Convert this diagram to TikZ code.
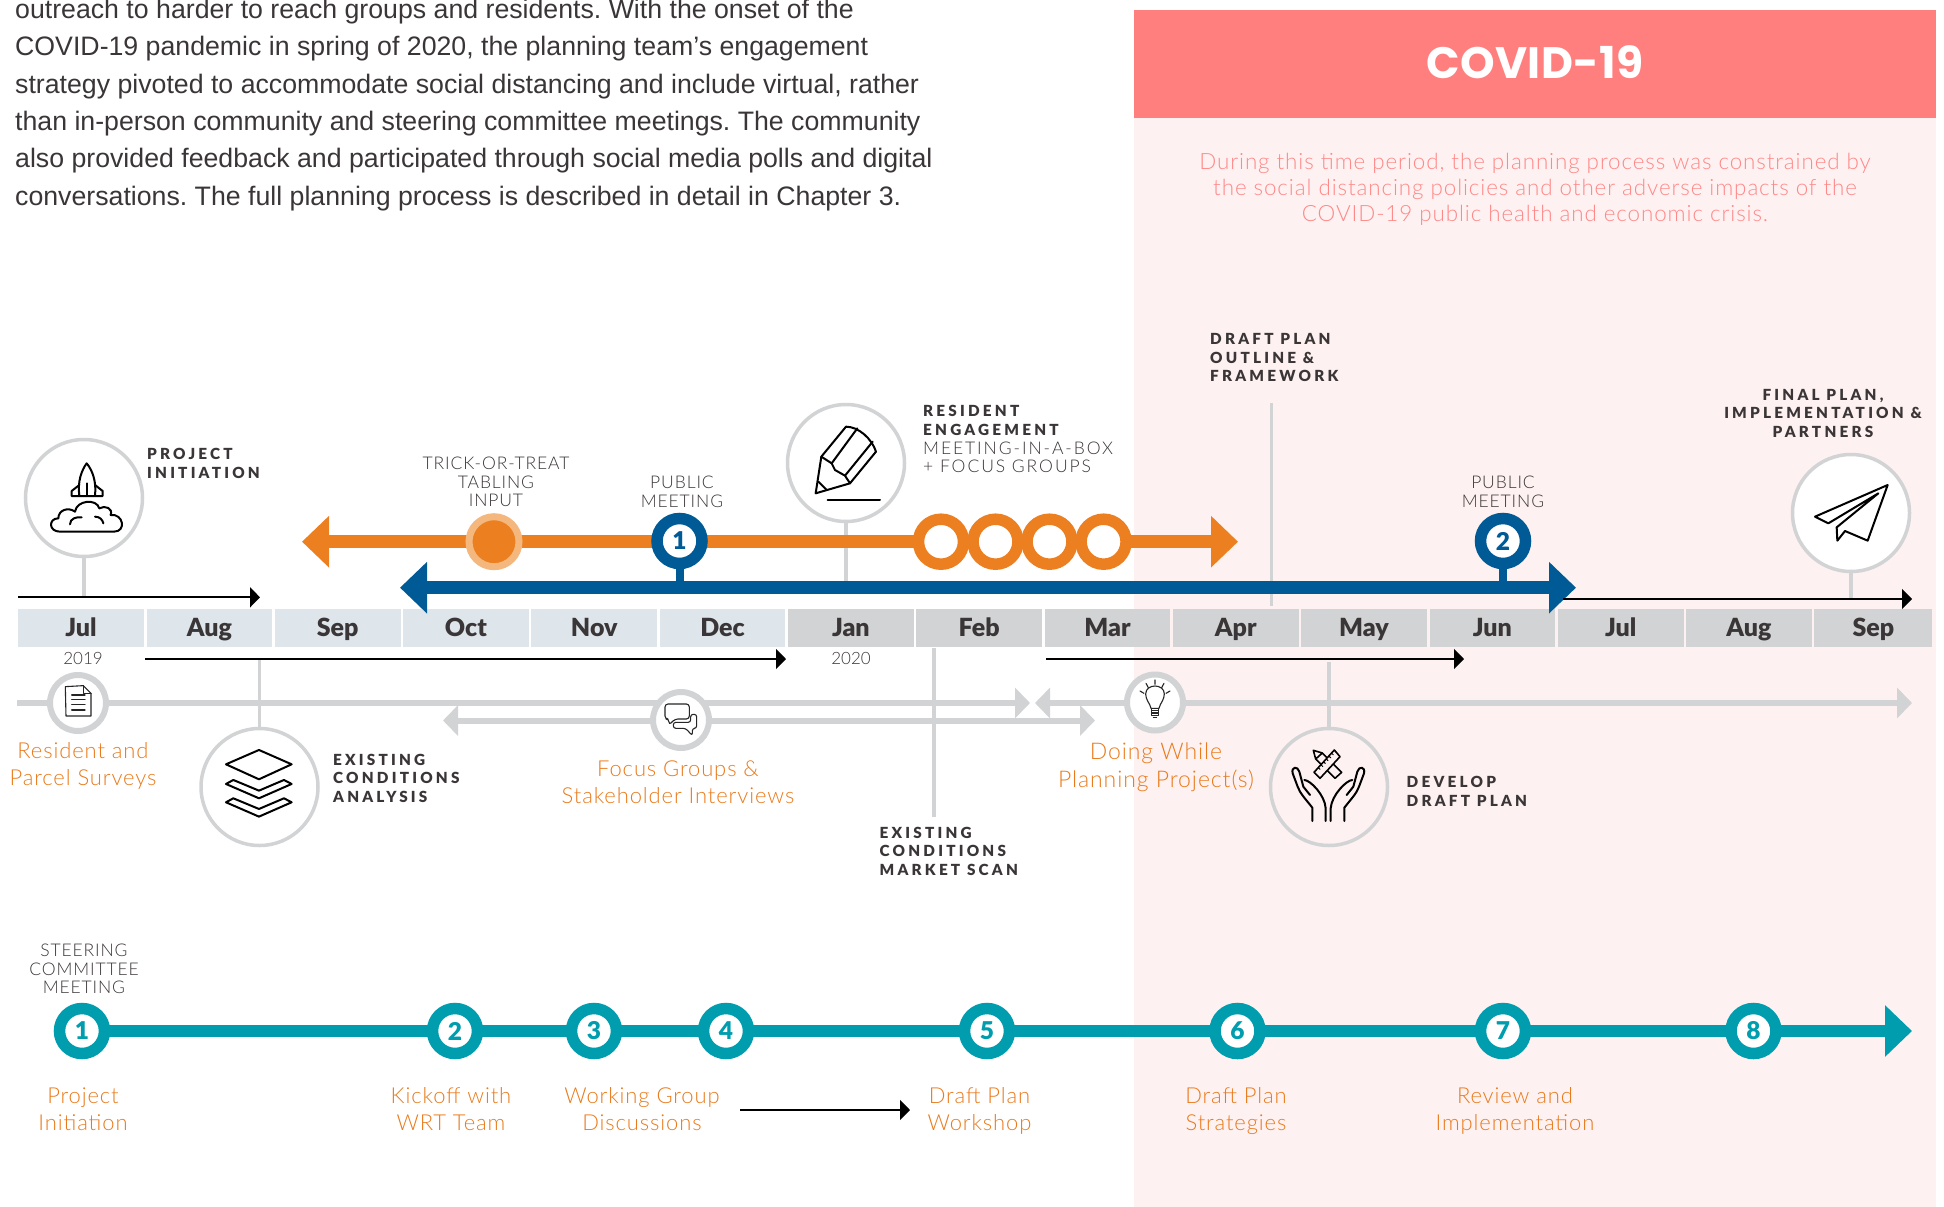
\documentclass[tikz,border=0pt]{standalone}
\usepackage{fontspec}
\usetikzlibrary{arrows.meta}
\setmainfont{Liberation Sans}
\newfontfamily\bodyf{Liberation Sans}
\newfontfamily\lightf{Lato Light}
\newfontfamily\lightsp[LetterSpace=4]{Lato Light}
\newfontfamily\boldsp[LetterSpace=21]{Lato Black}
\newfontfamily\capsl[LetterSpace=5]{Lato Light}
\newfontfamily\capsw[LetterSpace=11]{Lato Light}
\newfontfamily\monthf{Lato Black}
\newfontfamily\numf{Lato Black}
\newfontfamily\titlef[LetterSpace=1]{Poppins Bold}
\definecolor{dark}{HTML}{3A3536}
\definecolor{ltgrey}{HTML}{D1D3D4}
\definecolor{cool}{HTML}{DEE6EB}
\definecolor{orng}{HTML}{E97A1B}
\definecolor{orngl}{HTML}{F4B87F}
\definecolor{orngbar}{HTML}{EC7F1F}
\definecolor{bluu}{HTML}{005A96}
\definecolor{teal2}{HTML}{009DAE}
\definecolor{coral}{HTML}{FF7F7F}
\definecolor{coraltxt}{HTML}{FF8888}
\definecolor{pinkbg}{HTML}{FEF1F1}
\pgfdeclarelayer{panel}
\pgfdeclarelayer{stems}
\pgfsetlayers{panel,stems,main}
\tikzset{
  bigring/.style={circle,draw=ltgrey,line width=3.5pt,minimum size=117pt,inner sep=0pt,fill=white},
  smallring/.style={circle,draw=ltgrey,line width=6pt,minimum size=56pt,inner sep=0pt,fill=white},
  numring/.style={circle,draw=#1,text=#1,line width=11.5pt,minimum size=45pt,inner sep=0pt,fill=white,font=\numf\fontsize{24.5}{24.5}\selectfont},
  monthcell/.style={minimum height=38pt,inner sep=0pt,text height=21pt,text depth=4pt,text=dark,font=\monthf\fontsize{25}{25}\selectfont},
  stem/.style={draw=ltgrey,line width=3.5pt},
  bluestem/.style={draw=bluu,line width=8pt},
  blackarrow/.style={draw=black,line width=2pt,-{Triangle[length=10pt,width=20pt]}},
  greyline/.style={draw=ltgrey,line width=6pt},
  greyarrow/.style={greyline,-{Triangle[length=15pt,width=30pt]}},
  greyboth/.style={greyline,{Triangle[length=15pt,width=30pt]}-{Triangle[length=15pt,width=30pt]}},
  bigbar/.style={line width=12.5pt},
  barboth/.style={bigbar,{Triangle[length=27pt,width=50pt]}-{Triangle[length=27pt,width=50pt]}},
  struts/.style={execute at begin node=\strut,execute at end node=\strut},
  orangelab/.style={struts,text=orng,align=center,inner sep=0pt,font=\lightsp\fontsize{22}{26.5}\selectfont},
  capslab/.style={struts,text=dark,align=center,inner sep=0pt,font=\capsl\fontsize{17.5}{18.7}\selectfont},
  boldlab/.style={struts,text=dark,align=left,anchor=west,inner sep=0pt,font=\boldsp\fontsize{15.3}{18.7}\selectfont},
  icon/.style={draw=black,line width=2pt,line join=round,line cap=round},
  thinicon/.style={draw=black!85,line width=1.1pt,line join=round,line cap=round},
}
\begin{document}
\begin{tikzpicture}[x=1pt,y=-1pt]
\useasboundingbox (0,0) rectangle (1944,1207);
% COVID panel
\begin{pgfonlayer}{panel}
\fill[pinkbg] (1134,118) rectangle (1936,1207);
\fill[coral] (1134,10) rectangle (1936,118);
\end{pgfonlayer}
\node[inner sep=0pt,text=white,font=\titlef\fontsize{44}{44}\selectfont] (covidtitle) at (1535,62) {COVID-19};
\node[align=center,inner sep=0pt,text=coraltxt,font=\lightsp\fontsize{22.4}{26}\selectfont] (covidtext) at (1535,189.7)
  {During this time period, the planning process was constrained by\\the social distancing policies and other adverse impacts of the\\COVID-19 public health and economic crisis.};
% intro
\node[anchor=north west,inner sep=0pt,align=left,text=dark,font=\bodyf\frenchspacing\fontsize{26.7}{37.35}\selectfont] (intro) at (15,-1)
  {outreach to harder to reach groups and residents. With the onset of the\\
   COVID-19 pandemic in spring of 2020, the planning team’s engagement\\
   strategy pivoted to accommodate social distancing and include virtual, rather\\
   than in-person community and steering committee meetings. The community\\
   also provided feedback and participated through social media polls and digital\\
   conversations. The full planning process is described in detail in Chapter 3.};
% months
\foreach \i/\m/\c/\w in {0/Jul/cool/125.7,1/Aug/cool/125.7,2/Sep/cool/125.7,3/Oct/cool/125.7,4/Nov/cool/125.7,5/Dec/cool/125.7,6/Jan/ltgrey/125.7,7/Feb/ltgrey/125.7,8/Mar/ltgrey/125.7,9/Apr/ltgrey/125.7,10/May/ltgrey/125.7,11/Jun/ltgrey/125.7,12/Jul/ltgrey/125.7,13/Aug/ltgrey/125.7,14/Sep/ltgrey/118}{
  \node[monthcell,fill=\c,minimum width=\w pt,anchor=west] (m\i) at ({18+128.3*\i},627.5) {\m};
}
\node[inner sep=0pt,text=dark,font=\lightf\fontsize{17}{17}\selectfont] (y2019) at (83,658) {2019};
\node[inner sep=0pt,text=dark,font=\lightf\fontsize{17}{17}\selectfont] (y2020) at (851,658) {2020};
% coordinates for free ends
\coordinate (ba1s) at (18,597.3);   \coordinate (ba1e) at (260,597.3);
\coordinate (ba2s) at (145,659);    \coordinate (ba2e) at (786,659);
\coordinate (ba3s) at (1046,659);   \coordinate (ba3e) at (1464,659);
\coordinate (ba4s) at (1563,599);   \coordinate (ba4e) at (1912,599);
\coordinate (ba5s) at (740,1110);   \coordinate (ba5e) at (910,1110);
\coordinate (ol) at (302,541.7);    \coordinate (or) at (1238,541.7);
\coordinate (bl) at (400,587.7);    \coordinate (br) at (1576,587.7);
\coordinate (gl1s) at (17,703);     \coordinate (gl1e) at (1030,703);
\coordinate (gl2s) at (443,720.5);  \coordinate (gl2e) at (1095,720.5);
\coordinate (gl3s) at (1035,703);   \coordinate (gl3e) at (1912,703);
\coordinate (mk1) at (934,648);     \coordinate (mk2) at (934,817);
\coordinate (dp1) at (1271.7,403);  \coordinate (dp2) at (1271.7,606);
\coordinate (dv1) at (1329,662);
\coordinate (tl) at (82,1031);      \coordinate (tr) at (1912,1031);
% grey lines
\draw[greyarrow] (gl1s) -- (gl1e);
\draw[greyboth] (gl2s) -- (gl2e);
\draw[greyboth] (gl3s) -- (gl3e);
% big bars
\draw[orngbar,barboth] (ol) -- (or);
\draw[bluu,barboth] (bl) -- (br);
% black arrows
\draw[blackarrow] (ba1s) -- (ba1e);
\draw[blackarrow] (ba2s) -- (ba2e);
\draw[blackarrow] (ba3s) -- (ba3e);
\draw[blackarrow] (ba4s) -- (ba4e);
\draw[blackarrow] (ba5s) -- (ba5e);
% big rings
\node[bigring] (cproj) at (84,498) {};
\node[bigring] (cres) at (846,463) {};
\node[bigring] (cplane) at (1851,513) {};
\node[bigring] (clay) at (259.5,787) {};
\node[bigring,fill=pinkbg] (chand) at (1329,787) {};
% small rings
\node[smallring] (cdoc) at (78,703) {};
\node[smallring] (cchat) at (681,720) {};
\node[smallring] (cbulb) at (1155,702.5) {};
% orange markers
\node[circle,fill=orngbar,draw=orngl,line width=7pt,minimum size=50pt,inner sep=0pt] (trick) at (494,541.7) {};
\foreach \n/\xx in {a/941,b/995.5,c/1049.5,d/1103.6}{
  \node[circle,draw=orngbar,fill=white,line width=11.5pt,minimum size=45pt,inner sep=0pt] (oring\n) at (\xx,541.7) {};
}
% blue numbered
\node[numring=bluu] (pub1) at (679.5,541) {1};
\node[numring=bluu] (pub2) at (1503,541) {2};
% stems, on the layer under the bars
\begin{pgfonlayer}{stems}
\draw[stem] (cproj) -- (cproj |- ba1s);
\draw[stem] (cres) -- (cres |- bl);
\draw[stem] (dp1) -- (dp2);
\draw[stem] (cplane) -- (cplane |- ba4s);
\draw[stem] (clay) -- (clay |- ba2s);
\draw[stem] (chand) -- (chand |- dv1);
\draw[stem] (mk1) -- (mk2);
\draw[bluestem] (pub1) -- (pub1 |- bl);
\draw[bluestem] (pub2) -- (pub2 |- bl);
\end{pgfonlayer}
% teal line
\draw[teal2,bigbar,-{Triangle[length=27pt,width=50pt]}] (tl) -- (tr);
\foreach \n/\xx in {1/82,2/455,3/594,4/726,5/987,6/1237.5,7/1503,8/1753.5}{
  \node[numring=teal2] (st\n) at (\xx,1031) {\n};
}
% labels
\node[boldlab] (lproj) at (147,466.5) {PROJECT\\INITIATION};
\node[capslab] (ltrick) at (496,484.7) {TRICK-OR-TREAT\\TABLING\\INPUT};
\node[capslab] (lpub1) at (682,494.2) {PUBLIC\\MEETING};
\node[capslab] (lpub2) at (1503,494.2) {PUBLIC\\MEETING};
\node[boldlab] (lres) at (923,423.5) {RESIDENT\\ENGAGEMENT};
\node[capslab,align=left,anchor=west,font=\capsw\fontsize{17.5}{18.7}\selectfont] (lres2) at (923,460) {MEETING-IN-A-BOX\\+ FOCUS GROUPS};
\node[boldlab] (ldraft) at (1210,360.5) {DRAFT PLAN\\OUTLINE \&\\FRAMEWORK};
\node[boldlab,align=center,anchor=center] (lfinal) at (1823,416) {FINAL PLAN,\\IMPLEMENTATION \&\\PARTNERS};
\node[boldlab] (lexa) at (333,781) {EXISTING\\CONDITIONS\\ANALYSIS};
\node[boldlab] (lexm) at (879.5,854) {EXISTING\\CONDITIONS\\MARKET SCAN};
\node[boldlab] (ldev) at (1406.5,794.5) {DEVELOP\\DRAFT PLAN};
\node[orangelab] (lsurv) at (83,768.2) {Resident and\\Parcel Surveys};
\node[orangelab] (lfocus) at (678,786.2) {Focus Groups \&\\Stakeholder Interviews};
\node[orangelab,font=\lightsp\fontsize{23}{27.5}\selectfont] (ldoing) at (1156,769.5) {Doing While\\Planning Project(s)};
\node[capslab] (lsteer) at (84,971.7) {STEERING\\COMMITTEE\\MEETING};
\node[orangelab] (ls1) at (83,1113.2) {Project\\Initiation};
\node[orangelab] (ls2) at (451,1113.2) {Kickoff with\\WRT Team};
\node[orangelab] (ls3) at (642,1113.2) {Working Group\\Discussions};
\node[orangelab] (ls5) at (979.5,1113.2) {Draft Plan\\Workshop};
\node[orangelab] (ls6) at (1236,1113.2) {Draft Plan\\Strategies};
\node[orangelab] (ls7) at (1515,1113.2) {Review and\\Implementation};
% rocket icon
\begin{scope}[shift={(40,455)},x=0.3333pt,y=-0.3333pt]
\draw[icon] (118,122) .. controls (112,80) and (125,45) .. (140,25) .. controls (157,45) and (170,80) .. (165,122);
\draw[icon] (118,90) -- (95,108) -- (95,123) -- (188,123) -- (188,108) -- (165,90);
\draw[icon] (141,85) -- (141,122);
\draw[icon] (60,230) .. controls (25,230) and (25,190) .. (55,190) .. controls (55,165) and (85,155) .. (105,170) .. controls (110,135) and (170,130) .. (178,160) .. controls (195,150) and (220,160) .. (212,180) .. controls (250,175) and (260,230) .. (222,230) -- cycle;
\draw[icon] (90,208) .. controls (90,190) and (110,185) .. (125,187);
\draw[icon] (165,185) .. controls (180,185) and (188,195) .. (190,205);
\end{scope}
% layers and document icons
\begin{scope}[shift={(0,420)},x=0.3333pt,y=-0.3333pt]
\draw[icon] (678,1033) -- (777,990) -- (875,1033) -- (777,1078) -- cycle;
\draw[icon] (700,1080) -- (678,1092) -- (777,1135) -- (875,1092) -- (852,1080) -- (777,1112) -- cycle;
\draw[icon] (700,1135) -- (678,1147) -- (777,1190) -- (875,1147) -- (852,1135) -- (777,1167) -- cycle;
\draw[thinicon] (196,800) -- (250,797) -- (273,820) -- (273,888) -- (198,888) -- cycle;
\draw[thinicon] (250,797) -- (250,820) -- (273,820);
\draw[thinicon] (215,825) -- (255,825) (215,838) -- (255,838) (215,853) -- (255,853) (215,870) -- (255,870);
\end{scope}
% pencil icon
\begin{scope}[shift={(780,410)},x=0.3333pt,y=-0.3333pt]
\draw[icon] (107,250) -- (124,140) -- (198,50) .. controls (235,50) and (275,85) .. (288,125) -- (210,220) -- cycle;
\draw[icon] (124,140) -- (155,160) -- (165,180) -- (195,197) -- (210,220);
\draw[icon] (155,160) -- (232,55);
\draw[icon] (195,197) -- (278,95);
\draw[icon] (115,215) -- (140,240);
\draw[icon] (143,271) -- (300,271);
\end{scope}
% plane icon
\begin{scope}[shift={(1800,470)},x=0.3333pt,y=-0.3333pt]
\draw[icon] (263,45) -- (45,140) -- (85,160) -- (235,70) -- (110,172) -- (112,212) -- (135,183) -- (203,212) -- cycle;
\end{scope}
% hands icon
\begin{scope}[shift={(1285,745)},x=0.3333pt,y=-0.3333pt]
\draw[icon] (82,228) -- (82,188) .. controls (60,160) and (45,145) .. (38,125) -- (23,85) .. controls (18,65) and (38,62) .. (43,80) -- (55,125) -- (75,150);
\draw[icon] (58,105) .. controls (75,105) and (120,150) .. (122,190) -- (122,228);
\draw[icon] (178,228) -- (178,188) .. controls (200,160) and (215,145) .. (222,125) -- (237,85) .. controls (242,65) and (222,62) .. (217,80) -- (205,125) -- (185,150);
\draw[icon] (202,105) .. controls (185,105) and (140,150) .. (137,190) -- (137,228);
\draw[icon,line width=1.6pt] (85,16) -- (112,24) -- (170,82) -- (150,100) -- (92,42) -- cycle (92,42) -- (112,24);
\draw[icon,line width=1.6pt,fill=pinkbg] (87,82) -- (148,15) -- (165,35) -- (105,100) -- cycle;
\foreach \t in {0,1,...,6}{
  \draw[icon,line width=1pt] ({100+\t*8},{68-\t*8.7}) -- ({105+\t*8},{73-\t*8.7});
}
\end{scope}
% bulb icon
\begin{scope}[shift={(1130,675)},x=0.3333pt,y=-0.3333pt]
\draw[thinicon] (63,100) .. controls (60,85) and (47,75) .. (47,57) .. controls (47,25) and (103,25) .. (103,57) .. controls (103,75) and (90,85) .. (87,100) -- cycle;
\draw[thinicon] (65,100) -- (65,122) -- (85,122) -- (85,100) (65,107) -- (85,107) (65,114) -- (85,114) (70,128) -- (80,128);
\draw[thinicon] (75,15) -- (75,28) (48,25) -- (55,38) (102,25) -- (95,38) (30,48) -- (42,55) (120,48) -- (108,55);
\end{scope}
% chat icon
\begin{scope}[shift={(655,695)},x=0.3333pt,y=-0.3333pt]
\draw[thinicon,rounded corners=3pt] (30,27) -- (103,27) -- (103,72) -- (60,72) -- (42,90) -- (42,72) -- (30,72) -- cycle;
\draw[thinicon,rounded corners=2.5pt] (107,58) -- (125,58) -- (125,100) -- (112,100) -- (112,122) -- (92,100) -- (55,100) -- (55,82) -- (107,82) -- cycle;
\end{scope}
\end{tikzpicture}
\end{document}
